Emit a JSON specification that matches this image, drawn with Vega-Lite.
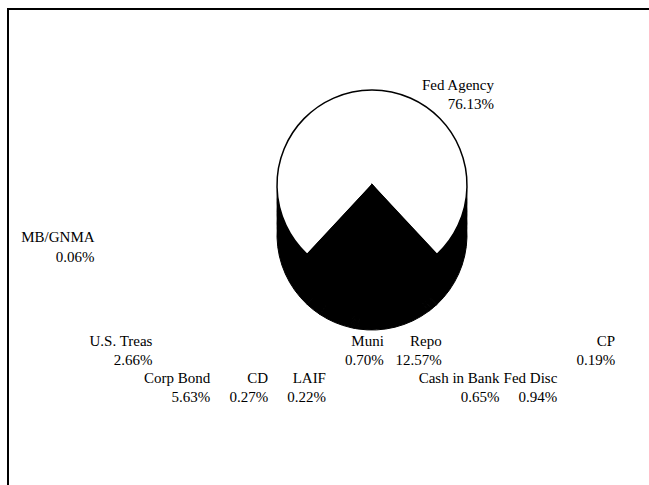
{
  "$schema": "https://vega.github.io/schema/vega-lite/v6.json",
  "width": 649,
  "height": 485,
  "autosize": {"type": "fit", "contains": "padding"},
  "padding": {"left": 8, "top": 9, "right": -6, "bottom": -6},
  "background": "white",
  "config": {
    "view": {"stroke": "black", "strokeWidth": 2},
    "text": {"font": "Liberation Serif", "fontSize": 15, "color": "black", "align": "right", "baseline": "alphabetic"}
  },
  "data": {
    "values": [
      {"name": "Fed Agency", "share": 0.7613},
      {"name": "CP", "share": 0.0019},
      {"name": "Fed Disc", "share": 0.0094},
      {"name": "Cash in Bank", "share": 0.0065},
      {"name": "Repo", "share": 0.1257},
      {"name": "Muni", "share": 0.0070},
      {"name": "LAIF", "share": 0.0022},
      {"name": "CD", "share": 0.0027},
      {"name": "Corp Bond", "share": 0.0563},
      {"name": "U.S. Treas", "share": 0.0266},
      {"name": "MB/GNMA", "share": 0.0006}
    ]
  },
  "layer": [
    {
      "mark": {"type": "arc", "radius": 95, "color": "black", "stroke": "black", "xOffset": 40.5, "yOffset": -15},
      "encoding": {"theta": {"field": "share", "type": "quantitative", "stack": true, "scale": {"range": [-2.3917, 3.8915]}}}
    },
    {
      "mark": {"type": "arc", "radius": 95, "color": "black", "stroke": "black", "xOffset": 40.5, "yOffset": -28},
      "encoding": {"theta": {"field": "share", "type": "quantitative", "stack": true, "scale": {"range": [-2.3917, 3.8915]}}}
    },
    {
      "mark": {"type": "arc", "radius": 95, "color": "black", "stroke": "black", "xOffset": 40.5, "yOffset": -40},
      "encoding": {"theta": {"field": "share", "type": "quantitative", "stack": true, "scale": {"range": [-2.3917, 3.8915]}}}
    },
    {
      "mark": {"type": "arc", "radius": 95, "color": "black", "stroke": "black", "xOffset": 40.5, "yOffset": -52},
      "encoding": {"theta": {"field": "share", "type": "quantitative", "stack": true, "scale": {"range": [-2.3917, 3.8915]}}}
    },
    {
      "mark": {"type": "arc", "radius": 95, "stroke": "black", "strokeWidth": 1.5, "xOffset": 40.5, "yOffset": -65},
      "encoding": {
        "theta": {"field": "share", "type": "quantitative", "stack": true, "scale": {"range": [-2.3917, 3.8915]}},
        "color": {"condition": {"test": "datum.name === 'Fed Agency'", "value": "white"}, "value": "black"}
      }
    },
    {
      "mark": {"type": "text", "radius": 95, "xOffset": 40.5, "yOffset": -65, "dx": 122},
      "encoding": {
        "theta": {"field": "share", "type": "quantitative", "stack": true, "scale": {"range": [-2.3917, 3.8915]}},
        "order": {"field": "share", "sort": "descending"},
        "text": {"condition": {"test": "datum.name === 'Fed Agency'", "field": "name", "type": "nominal"}, "value": ""}
      }
    },
    {
      "mark": {"type": "text", "radius": 76, "xOffset": 40.5, "yOffset": -65, "dx": 122},
      "encoding": {
        "theta": {"field": "share", "type": "quantitative", "stack": true, "scale": {"range": [-2.3917, 3.8915]}},
        "order": {"field": "share", "sort": "descending"},
        "text": {"condition": {"test": "datum.name === 'Fed Agency'", "field": "share", "type": "quantitative", "format": ".2%"}, "value": ""}
      }
    },
    {
      "transform": [{"filter": {"field": "name", "oneOf": ["MB/GNMA"]}}],
      "mark": {"type": "text", "dy": -8},
      "encoding": {
        "x": {"field": "name", "type": "nominal", "axis": null, "scale": {"type": "point", "padding": 0, "range": [86.6, 607.2], "domain": ["MB/GNMA", "U.S. Treas", "Corp Bond", "CD", "LAIF", "Muni", "Repo", "Cash in Bank", "Fed Disc", "CP"]}},
        "text": {"field": "name", "type": "nominal"}
      }
    },
    {
      "transform": [{"filter": {"field": "name", "oneOf": ["MB/GNMA"]}}],
      "mark": {"type": "text", "dy": 12},
      "encoding": {
        "x": {"field": "name", "type": "nominal", "axis": null, "scale": {"type": "point", "padding": 0, "range": [86.6, 607.2], "domain": ["MB/GNMA", "U.S. Treas", "Corp Bond", "CD", "LAIF", "Muni", "Repo", "Cash in Bank", "Fed Disc", "CP"]}},
        "text": {"field": "share", "type": "quantitative", "format": ".2%"}
      }
    },
    {
      "transform": [{"filter": {"field": "name", "oneOf": ["U.S. Treas", "Muni", "Repo", "CP"]}}],
      "mark": {"type": "text", "dy": 96},
      "encoding": {
        "x": {"field": "name", "type": "nominal", "axis": null, "scale": {"type": "point", "padding": 0, "range": [86.6, 607.2], "domain": ["MB/GNMA", "U.S. Treas", "Corp Bond", "CD", "LAIF", "Muni", "Repo", "Cash in Bank", "Fed Disc", "CP"]}},
        "text": {"field": "name", "type": "nominal"}
      }
    },
    {
      "transform": [{"filter": {"field": "name", "oneOf": ["U.S. Treas", "Muni", "Repo", "CP"]}}],
      "mark": {"type": "text", "dy": 115},
      "encoding": {
        "x": {"field": "name", "type": "nominal", "axis": null, "scale": {"type": "point", "padding": 0, "range": [86.6, 607.2], "domain": ["MB/GNMA", "U.S. Treas", "Corp Bond", "CD", "LAIF", "Muni", "Repo", "Cash in Bank", "Fed Disc", "CP"]}},
        "text": {"field": "share", "type": "quantitative", "format": ".2%"}
      }
    },
    {
      "transform": [{"filter": {"field": "name", "oneOf": ["Corp Bond", "CD", "LAIF", "Cash in Bank", "Fed Disc"]}}],
      "mark": {"type": "text", "dy": 133},
      "encoding": {
        "x": {"field": "name", "type": "nominal", "axis": null, "scale": {"type": "point", "padding": 0, "range": [86.6, 607.2], "domain": ["MB/GNMA", "U.S. Treas", "Corp Bond", "CD", "LAIF", "Muni", "Repo", "Cash in Bank", "Fed Disc", "CP"]}},
        "text": {"field": "name", "type": "nominal"}
      }
    },
    {
      "transform": [{"filter": {"field": "name", "oneOf": ["Corp Bond", "CD", "LAIF", "Cash in Bank", "Fed Disc"]}}],
      "mark": {"type": "text", "dy": 152},
      "encoding": {
        "x": {"field": "name", "type": "nominal", "axis": null, "scale": {"type": "point", "padding": 0, "range": [86.6, 607.2], "domain": ["MB/GNMA", "U.S. Treas", "Corp Bond", "CD", "LAIF", "Muni", "Repo", "Cash in Bank", "Fed Disc", "CP"]}},
        "text": {"field": "share", "type": "quantitative", "format": ".2%"}
      }
    }
  ]
}
